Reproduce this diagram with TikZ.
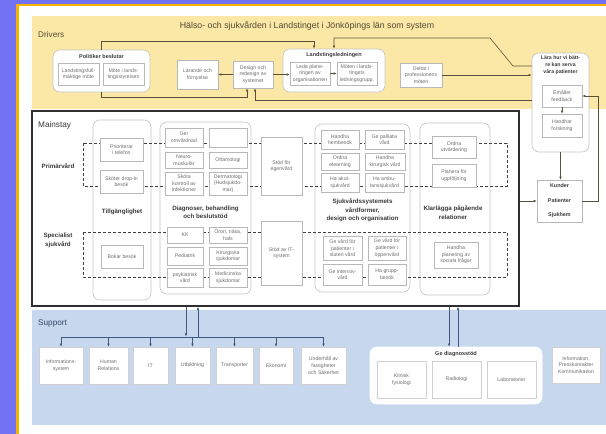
\documentclass[tikz,border=0pt]{standalone}
\usepackage{fontspec}
\setmainfont{Liberation Sans}
\usetikzlibrary{arrows.meta,calc}

\definecolor{drvbg}{HTML}{FBE8A6}
\definecolor{supbg}{HTML}{C6D7EE}
\definecolor{rim}{HTML}{7272F2}
\definecolor{rimline}{HTML}{F5B400}
\definecolor{boxline}{HTML}{B8B8B8}
\definecolor{sboxline}{HTML}{D0D0D0}
\definecolor{boxtxt}{HTML}{6E6E6E}
\definecolor{headtxt}{HTML}{3A3A3A}
\definecolor{drvline}{HTML}{5A5238}
\definecolor{supline}{HTML}{3E5A82}
\definecolor{contline}{HTML}{C4C4C4}
\definecolor{framecol}{HTML}{2E2E2E}
\definecolor{dashcol}{HTML}{404040}

% box given by its corners: [style]{name}{x1}{y1}{x2}{y2}{text}
\newcommand{\placebox}[7][bx]{%
  \node[#1, minimum width={(#5)-(#3)}, minimum height={(#6)-(#4)}]
    (#2) at ({((#3)+(#5))/2},{((#4)+(#6))/2}) {#7};}

\begin{document}
\begin{tikzpicture}[x=1pt,y=-1pt,
  bx/.style={draw=boxline, line width=0.5pt, fill=white, inner sep=0pt,
    align=center, text=boxtxt, font=\fontsize{5.2}{6.6}\selectfont},
  sbx/.style={bx, draw=sboxline},
  cont/.style={draw=contline, line width=0.6pt, fill=white,
    rounded corners=7pt, inner sep=0pt},
  msframe/.style={draw=framecol, line width=1.6pt, fill=white, inner sep=0pt},
  head/.style={align=center, text=headtxt, inner sep=0pt,
    font=\fontsize{5.5}{7}\selectfont\bfseries},
  lab/.style={align=center, text=headtxt, inner sep=0pt,
    font=\fontsize{6.2}{8.4}\selectfont\bfseries},
  sec/.style={anchor=base west, inner sep=0pt, text=#1,
    font=\fontsize{8.2}{9}\selectfont},
  con/.style={draw=drvline, line width=0.6pt,
    -{Latex[length=3.2pt,width=2.6pt]}},
  conplain/.style={draw=drvline, line width=0.6pt},
  scon/.style={draw=supline, line width=0.6pt,
    -{Latex[length=3.2pt,width=2.6pt]}},
  sconplain/.style={draw=supline, line width=0.6pt},
  dashbox/.style={draw=dashcol, line width=0.7pt, dash pattern=on 3pt off 2pt}]

\useasboundingbox (0,0) rectangle (606,434);

% ---------- backdrop ----------
\fill[white] (0,0) rectangle (606,434);
\fill[rim] (0,0) rectangle (606,4);
\fill[rim] (0,0) rectangle (16,434);
\fill[rimline] (16,4) rectangle (606,6);
\fill[rimline] (16,4) rectangle (18.5,434);
\fill[drvbg] (32,16) rectangle (606,109);
\fill[supbg] (32,310) rectangle (606,425);

% ---------- section titles ----------
\node[sec=drvline!90!black] at (38,37) {Drivers};
\node[anchor=base, inner sep=0pt, text=drvline!90!black,
  font=\fontsize{8.8}{9}\selectfont] at (307,28)
  {Hälso- och sjukvården i Landstinget i Jönköpings län som system};

% ---------- drivers ----------
\placebox[cont]{pol}{53}{50}{150}{92}{}
\node[head] at (101.5,57) {Politiker beslutar};
\placebox{lf}{58}{63}{99}{85}{Landstingsfull-\\mäktige möte}
\placebox{ml}{103}{63}{144}{85}{Möte i lands-\\tingsstyrelsen}

\placebox{lar}{177}{60}{218}{89}{Lärande och\\förnyelse}
\placebox{des}{233}{61}{273}{88}{Design och\\redesign av\\systemet}

\placebox[cont]{led}{283}{49}{385}{92}{}
\node[head] at (334,55) {Landstingsledningen};
\placebox{leda}{290}{62}{330}{85}{Leda plane-\\ringen av\\organisationen}
\placebox{moten}{337}{62}{377}{85}{Möten i lands-\\tingets\\ledningsgrupp.}

\placebox{delt}{400}{63}{442}{87}{Deltar i\\professionens\\möten}

\placebox[cont]{lara}{532}{53}{589}{152}{}
\node[head, font=\fontsize{5.2}{7}\selectfont\bfseries] at (560.5,65)
  {Lära hur vi bätt-\\re kan serva\\våra patienter};
\placebox{feed}{542}{85}{582}{107}{Erhåller\\feedback}
\placebox{fors}{542}{114}{582}{137}{Handhar\\forskning}

\placebox[bx, text=headtxt, font=\fontsize{5.4}{14.5}\selectfont\bfseries]
  {kund}{537}{180}{582}{222}{Kunder\\Patienter\\Sjukhem}

% ---------- mainstay ----------
\placebox[msframe]{ms}{32}{111}{519}{306}{}
\node[sec=headtxt] at (38,127) {Mainstay};

\placebox[cont]{till}{93}{120}{151}{300}{}
\placebox[cont]{dia}{160}{122}{251}{294}{}
\placebox[cont]{sjuk}{315}{124}{410}{292}{}
\placebox[cont]{klar}{420}{123}{490}{295}{}

\draw[dashbox] (83,143) rectangle (507,186);
\draw[dashbox] (83,232) rectangle (507,277);

\node[lab] at (58,166) {Primärvård};
\node[lab] at (58,240.5) {Specialist\\sjukvård};

\placebox{prio}{100}{138}{143}{161}{Prioriterar\\i telefon}
\placebox{drop}{100}{170}{143}{193}{Sköter drop-in\\besök}
\node[lab] at (122,212) {Tillgänglighet};
\placebox{bokar}{101}{245}{143}{268}{Bokar besök}

\placebox{ger}{165}{128}{203}{147}{Ger\\omvårdnad}
\placebox{tom}{209}{128}{247}{147}{}
\placebox{neuro}{165}{152}{203}{168}{Neuro-\\muskulär}
\placebox{oft}{209}{152}{247}{168}{Oftamologi}
\placebox{skota}{165}{172}{203}{195}{Sköta\\kontroll av\\infektioner}
\placebox{derm}{209}{172}{247}{195}{Dermatologi\\(Hudsjukdo-\\mar)}
\node[lab] at (205.5,212.5) {Diagnoser, behandling\\och beslutstöd};
\placebox{kk}{167}{227}{203}{243}{KK}
\placebox{oron}{209}{227}{247}{243}{Öron, näsa,\\hals}
\placebox{ped}{167}{247}{203}{265}{Pediatrik}
\placebox{kir}{209}{247}{247}{265}{Kirurgiska\\sjukdomar}
\placebox{psyk}{167}{268}{203}{287}{psykiatrisk\\vård}
\placebox{med}{209}{268}{247}{287}{Medicinska\\sjukdomar}

\placebox{ego}{261}{137}{302}{195}{Stöd för\\egenvård}
\placebox{itsys}{261}{221}{302}{285}{Stöd av IT-\\system}

\placebox{hemb}{321}{130}{359}{149}{Handha\\hembesök}
\placebox{pall}{365}{130}{404}{149}{Ge palliativ\\vård}
\placebox{elearn}{321}{153}{359}{170}{Ordna\\elearning}
\placebox{kirv}{365}{153}{405}{170}{Handha\\kirurgisk vård}
\placebox{akut}{321}{173}{359}{192}{Ha akut-\\sjukvård}
\placebox{ambu}{365}{173}{404}{192}{Ha ambu-\\lanssjukvård}
\node[lab] at (362.5,210.5) {Sjukvårdssystemets\\vårdformer,\\design och organisation};
\placebox{slut}{323}{236}{362}{260}{Ge vård för\\patienter i\\sluten vård}
\placebox{oppen}{368}{236}{406}{260}{Ge vård för\\patienter i\\öppenvård}
\placebox{inten}{323}{264}{362}{285}{Ge intensiv-\\vård}
\placebox{grupp}{368}{264}{406}{285}{Ha grupp-\\besök}

\placebox{utv}{432}{136}{476}{158}{Ordna\\utvärdering}
\placebox{uppf}{432}{164}{476}{187}{Planera för\\uppföljning}
\node[lab] at (453,212.5) {Klarlägga pågående\\relationer};
\placebox{soc}{434}{242}{478}{268}{Handha\\planering av\\sociala frågor}

% ---------- support ----------
\node[sec=supline!80!black] at (38,325) {Support};
\placebox[sbx]{info}{39}{347}{83}{384}{Informations-\\system}
\placebox[sbx]{hr}{89}{347}{128}{384}{Human\\Relations}
\placebox[sbx]{it}{133}{347}{168}{384}{IT}
\placebox[sbx]{utb}{175}{347}{210}{384}{Utbildning}
\placebox[sbx]{trans}{216}{347}{253}{384}{Transporter}
\placebox[sbx]{eko}{259}{347}{293}{384}{Ekonomi}
\placebox[sbx]{under}{301}{347}{346}{384}{Underhåll av\\fastigheter\\och Säkerhet}

\placebox[cont, draw=white]{gds}{370}{347}{542}{404}{}
\node[head] at (456,354) {Ge diagnosstöd};
\placebox[sbx]{klin}{377}{361}{426}{398}{Klinisk\\fysiologi}
\placebox[sbx]{radio}{432}{361}{481}{398}{Radiologi}
\placebox[sbx]{labb}{487}{361}{536}{398}{Laboratorier}

\placebox[sbx]{press}{552}{347}{600}{383}{Information,\\Presskontakter\\Kommunikation}

% ---------- driver connectors ----------
\draw[con] (pol.north) |- (314,41) -- ([xshift=-20pt]led.north);
\draw[con] (pol.south) |- (247,97) -- ([xshift=-6pt]des.south);
\draw[con] (lara.west |- 0,100) -- (255,100) -- ([xshift=2pt]des.south);
\draw[con] (lara.west |- 0,66) -- (513,66) -- (490,38) -- (led.north |- 0,38) -- (led.north);
\draw[con] (des.west) -- (lar.east);
\draw[con] (des.east) -- (des.east -| leda.west);
\draw[con] (leda.east) -- (leda.east -| moten.west);
\draw[con] (delt.east) -- (delt.east -| lara.west);
\draw[con] (feed.south) -- (fors.north);
\draw[con] (lara.south) -- (lara.south |- kund.north);
\draw[con] (kund.east) -| ($(feed.east)+(16,0)$) -- (feed.east);
\draw[con] (ms.east |- kund.west) -- (kund.west);

% ---------- support connectors ----------
\draw[sconplain] (info.north |- 0,337) -- (under.north |- 0,337);
\foreach \n in {info,hr,it,utb,trans,eko,under}
  \draw[scon] (\n.north |- 0,337) -- (\n.north);
\draw[scon] (ms.south -| 186,0) -- (186,336.5);
\draw[scon] (198,337) -- (ms.south -| 198,0);
\draw[scon] (ms.south -| 449,0) -- (gds.north -| 449,0);
\draw[scon] (gds.north -| 458,0) -- (ms.south -| 458,0);

\end{tikzpicture}
\end{document}
